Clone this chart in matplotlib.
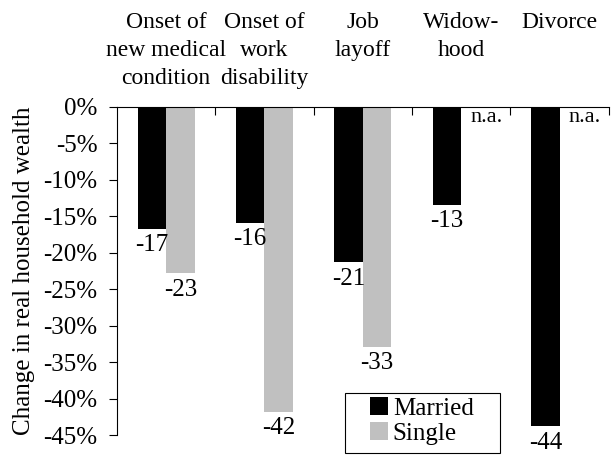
import numpy as np
import matplotlib.pyplot as plt
from matplotlib.patches import Rectangle

# data
categories = ["Onset of\nnew medical\ncondition", "Onset of\nwork\ndisability",
              "Job\nlayoff", "Widow-\nhood", "Divorce"]
married = [-16.7, -15.9, -21.3, -13.4, -43.8]
single = [-22.8, -41.8, -32.9, np.nan, np.nan]
married_labels = ["-17", "-16", "-21", "-13", "-44"]
single_labels = ["-23", "-42", "-33", "n.a.", "n.a."]
yticks = [0, -5, -10, -15, -20, -25, -30, -35, -40, -45]

plt.rcParams['font.family'] = ['Liberation Serif', 'DejaVu Serif']
plt.rcParams['font.size'] = 18

fig = plt.figure(figsize=(6.15, 4.66), dpi=100)
ax = fig.add_axes([0.190, 0.0665, 0.800, 0.7039])

x = np.arange(len(categories)) + 0.5
w = 0.29
ax.bar(x - w / 2, married, w, color='black', label='Married')
ax.bar(x + w / 2, np.nan_to_num(single), w, color='#c0c0c0', label='Single')

for xi, v, lab in zip(x - w / 2, married, married_labels):
    ax.annotate(lab, (xi, v), xytext=(0, -4), textcoords='offset points',
                ha='center', va='top', annotation_clip=False)
for xi, v, lab in zip(x + w / 2, single, single_labels):
    if np.isnan(v):
        ax.annotate(lab, (xi, 0), xytext=(8, -1), textcoords='offset points',
                    ha='center', va='top', fontsize=16)
    else:
        ax.annotate(lab, (xi, v), xytext=(0, -4), textcoords='offset points',
                    ha='center', va='top', annotation_clip=False)

# category names above the plot
for xi, c in zip(x, categories):
    ax.text(xi, 1.29, c, transform=ax.get_xaxis_transform(), ha='center',
            va='top', linespacing=1.45, fontsize=17)

ax.set_xlim(0, 5)
ax.set_ylim(-45, 0)
ax.set_yticks(yticks)
ax.set_yticklabels([f"{v}%" for v in yticks])
ax.tick_params(axis='y', direction='out', length=6, pad=8)
ax.xaxis.tick_top()
ax.set_xticks([1, 2, 3, 4, 5])
ax.set_xticklabels([])
ax.tick_params(axis='x', direction='in', length=6)

ax.spines['bottom'].set_visible(False)
ax.spines['right'].set_visible(False)
ax.set_ylabel("Change in real household wealth", labelpad=6)

# legend entries, with a separate wider box around them
ax.legend(loc='upper left', bbox_to_anchor=(0.514, 0.116), borderaxespad=0,
          borderpad=0, frameon=False, handlelength=0.72, handleheight=0.72,
          handletextpad=0.2, labelspacing=0.1)
ax.add_patch(Rectangle((0.4634, -0.055), 0.315, 0.183, transform=ax.transAxes,
                       fill=False, edgecolor='black', linewidth=0.8, clip_on=False))

fig.savefig("out.png", dpi=100)
